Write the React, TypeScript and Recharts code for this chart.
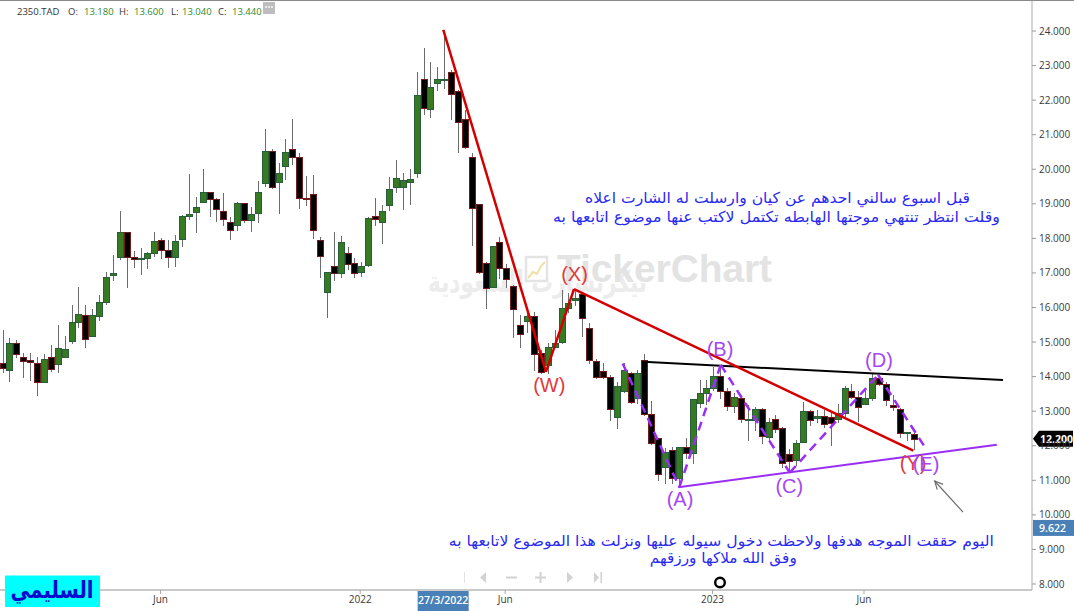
import React from 'react';
import { ComposedChart, Bar, XAxis, YAxis, ReferenceLine, ReferenceDot } from 'recharts';

// Weekly candles, 2350.TAD
const opens = [14.39, 14.19, 14.96, 14.58, 14.48, 14.38, 13.85, 14.58, 14.36, 14.58,
  15.04, 15.59, 15.78, 15.18, 15.76, 16.15, 16.94, 17.45, 18.18, 17.45,
  17.39, 17.42, 17.57, 17.95, 17.66, 17.45, 17.98, 18.66, 18.77, 19.06,
  19.35, 19.13, 18.78, 18.48, 18.39, 19.01, 18.53, 18.73, 19.59, 20.53,
  19.62, 20.09, 20.58, 20.35, 19.17, 19.27, 17.95, 16.46, 17.2, 16.99,
  17.58, 17.28, 17.02, 17.23, 18.64, 18.48, 18.96, 19.48, 19.48, 19.62,
  19.88, 22.61, 21.73, 22.49, 22.58, 22.8, 22.27, 21.45, 20.35, 18.99,
  17.28, 16.6, 17.9, 17.13, 16.62, 15.49, 15.61, 15.76, 14.67, 14.34,
  14.86, 15.01, 15.98, 16.22, 16.38, 15.4, 14.46, 14.16, 14.0, 12.84,
  13.58, 14.11, 13.37, 14.48, 12.91, 12.22, 11.38, 11.88, 11.06, 11.95,
  11.8, 13.25, 13.52, 13.66, 14.03, 13.58, 13.15, 13.39, 12.74, 12.74,
  13.06, 12.26, 12.76, 12.52, 11.75, 11.59, 12.12, 13.0, 12.79, 12.87,
  12.82, 12.76, 12.94, 13.59, 13.42, 13.21, 13.37, 13.95, 13.78, 13.19,
  13.06, 12.36, 12.34];
const highs = [15.35, 15.12, 15.06, 14.67, 14.67, 14.56, 14.64, 14.91, 15.49, 15.17,
  16.07, 16.6, 16.07, 15.95, 16.36, 17.02, 17.52, 18.79, 18.18, 17.63,
  17.71, 17.61, 18.19, 18.0, 17.95, 18.1, 18.68, 19.86, 19.21, 20.0,
  19.35, 19.18, 19.3, 18.63, 19.06, 19.03, 18.92, 19.66, 21.16, 20.58,
  20.17, 20.88, 21.45, 20.46, 19.8, 19.83, 18.05, 17.02, 18.18, 18.08,
  17.76, 17.42, 17.32, 18.63, 19.16, 18.97, 19.78, 20.27, 19.88, 20.0,
  22.8, 23.5, 23.09, 22.95, 24.03, 22.87, 22.29, 21.71, 20.48, 18.99,
  17.32, 17.78, 18.05, 17.25, 16.65, 15.78, 15.88, 15.88, 14.77, 14.96,
  15.35, 16.51, 16.41, 16.53, 16.46, 15.54, 14.5, 14.38, 14.05, 13.85,
  14.38, 14.14, 14.19, 14.64, 13.3, 12.23, 11.93, 11.97, 11.95, 12.21,
  13.34, 13.9, 13.9, 14.29, 14.34, 13.66, 13.52, 13.47, 13.18, 13.13,
  13.08, 12.79, 12.89, 12.55, 11.92, 12.17, 13.27, 13.03, 13.03, 13.03,
  12.98, 13.21, 13.72, 13.79, 13.58, 13.64, 14.08, 14.05, 13.85, 13.47,
  13.08, 12.41, 12.38];
const lows = [14.13, 13.88, 14.58, 13.98, 13.9, 13.47, 13.84, 14.17, 14.14, 14.58,
  14.96, 15.44, 14.85, 15.18, 15.64, 16.1, 16.8, 17.39, 16.6, 17.18,
  16.96, 17.13, 17.49, 17.42, 17.18, 17.2, 17.79, 18.56, 18.19, 19.04,
  18.65, 18.5, 18.39, 17.98, 18.24, 18.48, 18.21, 18.48, 19.52, 19.45,
  18.73, 19.71, 20.15, 18.87, 18.97, 18.0, 16.87, 15.73, 16.8, 16.87,
  17.1, 16.87, 16.92, 17.21, 18.39, 17.86, 18.82, 19.35, 18.84, 18.99,
  19.78, 21.59, 21.52, 22.29, 22.34, 21.45, 20.51, 20.62, 17.81, 17.0,
  15.99, 16.6, 16.84, 16.6, 15.15, 14.86, 15.3, 14.19, 14.11, 14.11,
  14.86, 14.98, 15.88, 16.07, 15.18, 14.4, 13.95, 13.95, 12.74, 12.5,
  13.56, 13.23, 13.23, 12.89, 12.06, 11.0, 10.91, 10.91, 10.8, 11.64,
  11.49, 13.13, 13.22, 13.61, 13.37, 13.03, 12.98, 12.7, 12.17, 12.45,
  12.07, 12.12, 12.41, 11.39, 11.3, 11.44, 12.1, 12.6, 12.69, 12.55,
  12.02, 12.7, 12.85, 13.37, 12.72, 13.21, 13.32, 13.76, 13.18, 13.03,
  12.26, 12.17, 11.9];
const closes = [14.26, 14.96, 14.64, 14.45, 14.41, 13.84, 14.5, 14.21, 14.82, 14.79,
  15.57, 15.8, 15.08, 15.78, 16.15, 16.87, 16.99, 18.18, 17.45, 17.39,
  17.42, 17.57, 17.92, 17.66, 17.47, 17.92, 18.65, 18.7, 18.9, 19.33,
  19.14, 18.84, 18.55, 18.23, 19.01, 18.53, 18.7, 19.33, 20.53, 19.49,
  19.88, 20.51, 20.35, 19.16, 19.13, 18.23, 17.49, 17.02, 16.99, 17.89,
  17.26, 16.99, 17.21, 18.58, 18.56, 18.78, 19.43, 19.74, 19.69, 19.72,
  22.15, 21.76, 22.37, 22.6, 22.61, 22.17, 21.36, 20.65, 18.87, 17.04,
  16.55, 17.78, 17.13, 16.82, 15.95, 15.22, 15.75, 14.65, 14.14, 14.85,
  14.96, 15.98, 16.12, 16.27, 15.69, 14.48, 13.98, 13.98, 13.05, 13.73,
  14.19, 13.27, 14.11, 12.91, 12.09, 11.17, 11.83, 11.06, 11.95, 11.78,
  13.34, 13.52, 13.66, 14.02, 13.58, 13.15, 13.4, 12.76, 12.77, 13.06,
  12.28, 12.68, 12.48, 11.51, 11.56, 12.07, 13.0, 12.74, 12.87, 12.62,
  12.65, 12.94, 13.66, 13.4, 13.11, 13.37, 13.95, 13.79, 13.32, 13.11,
  12.38, 12.39, 12.2];

// Axes
const yTicks = [8, 9, 10, 11, 12, 13, 14, 15, 16, 17, 18, 19, 20, 21, 22, 23, 24];
const xTickWeeks = [22.83, 51.76, 72.77, 102.81, 124.76];
const xTickLabels = ['Jun', '2022', 'Jun', '2023', 'Jun'];
const X_DOMAIN: [number, number] = [-0.43, 149.1];
const Y_DOMAIN: [number, number] = [7.826, 24.897];

// Crosshair read-outs
const cursorWeek = 64;
const cursorDate = '27/3/2022';
const cursorPrice = 9.622;
const headerSymbol = '2350.TAD';
const headerOHLC = ['13.180', '13.600', '13.040', '13.440'];

// Wave drawings: [week index, price]
const redWave = [[63.8, 24.03], [78.68, 14.14], [82.74, 16.53], [131.9, 11.86]];
const purpleZigzag = [[89.8, 14.38], [98, 10.8], [104, 14.34], [114, 11.22], [126.8, 14.05], [133.85, 11.88]];
const supportLine = [[97.85, 10.8], [144, 12.03]];
const resistanceLine = [[92.78, 14.43], [144.9, 13.9]];
const arrowLine = [[139.1, 10.08], [135.0, 10.98]];

const redLabels = [
  { text: '(X)', x: 82.81, y: 16.97 },
  { text: '(W)', x: 79.16, y: 13.76 },
  { text: '(Y)', x: 131.86, y: 11.5 },
];
const purpleLabels = [
  { text: '(B)', x: 103.9, y: 14.8 },
  { text: '(C)', x: 113.93, y: 10.83 },
  { text: '(D)', x: 126.93, y: 14.48 },
  { text: '(A)', x: 98.1, y: 10.46 },
  { text: '(E)', x: 133.74, y: 11.47 },
];

const notes = [
  { text: 'قبل اسبوع سالني احدهم عن كيان وارسلت له  الشارت اعلاه', x: 112.23, y: 19.02, len: 385 },
  { text: 'وقلت انتظر تنتهي موجتها الهابطه تكتمل لاكتب عنها موضوع اتابعها به', x: 112.08, y: 18.47, len: 447 },
  { text: 'اليوم حققت الموجه هدفها ولاحظت دخول سيوله عليها ونزلت هذا الموضوع لاتابعها به', x: 104.08, y: 9.1, len: 545 },
  { text: 'وفق الله ملاكها ورزقهم', x: 104.37, y: 8.61, len: 147 },
];

const W = 1074;
const H = 611;
const RED = '#d40000';
const PURPLE = '#9a2ef5';
const LABEL_RED = '#e23a3a';
const LABEL_PURPLE = '#a448f5';
const NOTE_BLUE = '#2a2af0';
const AXIS_TEXT = '#3a3a3a';

const data = opens.map((o, i) => ({
  i,
  o,
  h: highs[i],
  l: lows[i],
  c: closes[i],
  range: [lows[i], highs[i]],
}));

const Candle = (props: any) => {
  const { x, y, width, height, payload } = props;
  if (x == null || y == null) return null;
  const top = Math.min(y, y + height);
  const hh = Math.abs(height);
  const { o, h, l, c } = payload;
  const span = h - l;
  const py = (v: number) => (span > 0 ? top + ((h - v) / span) * hh : top);
  const cx = Math.round(x + width / 2);
  const up = c >= o;
  const bTop = Math.round(py(Math.max(o, c))) + 0.5;
  const bBot = Math.round(py(Math.min(o, c))) + 0.5;
  const bh = Math.max(bBot - bTop, 1);
  return (
    <g>
      <line x1={cx + 0.5} x2={cx + 0.5} y1={Math.round(top)} y2={Math.round(top + hh) + 1} stroke="#6c6c6c" strokeWidth={1} />
      <rect
        x={cx - 2.5}
        y={bTop}
        width={6}
        height={bh}
        fill={up ? '#367b22' : '#000000'}
        stroke={up ? '#2a5d3c' : '#741c1c'}
        strokeWidth={1}
      />
    </g>
  );
};

const seg = (a: number[], b: number[]) => [{ x: a[0], y: a[1] }, { x: b[0], y: b[1] }];

const polySegments = (pts: number[][], key: string, props: any) =>
  pts.slice(1).map((p, k) => (
    <ReferenceLine key={`${key}-${k}`} segment={seg(pts[k], p)} ifOverflow="visible" {...props} />
  ));

const Arrow = (p: any) => {
  const { x1, y1, x2, y2 } = p;
  const ang = Math.atan2(y2 - y1, x2 - x1);
  const L = 9;
  const spread = 0.45;
  const ax = x2 - L * Math.cos(ang - spread);
  const ay = y2 - L * Math.sin(ang - spread);
  const bx = x2 - L * Math.cos(ang + spread);
  const by = y2 - L * Math.sin(ang + spread);
  return (
    <g>
      <line x1={x1} y1={y1} x2={x2} y2={y2} stroke="#6e6e6e" strokeWidth={1.2} />
      <polyline points={`${ax},${ay} ${x2},${y2} ${bx},${by}`} fill="none" stroke="#6e6e6e" strokeWidth={1.2} />
    </g>
  );
};

const PriceTag = (props: any) => {
  const vb = props.viewBox || {};
  const x0 = (vb.x || 0) + (vb.width || 0);
  const yc = vb.y || 0;
  return (
    <g>
      <polygon
        points={`${x0 + 1},${yc} ${x0 + 7},${yc - 8} ${x0 + 41},${yc - 8} ${x0 + 41},${yc + 8} ${x0 + 7},${yc + 8}`}
        fill="#000"
      />
      <text x={x0 + 8} y={yc + 3.8} fill="#fff" fontSize={10.5} fontWeight={700} fontFamily='"Open Sans", sans-serif'>
        {closes[closes.length - 1].toFixed(3)}
      </text>
    </g>
  );
};

const CursorPriceTag = (props: any) => {
  const vb = props.viewBox || {};
  const x0 = (vb.x || 0) + (vb.width || 0);
  const yc = vb.y || 0;
  return (
    <g>
      <rect x={x0 + 1} y={yc - 8} width={41} height={16} fill="#4a80b8" />
      <text x={x0 + 7} y={yc + 3.8} fill="#fff" fontSize={10.5} fontWeight={600} fontFamily='"Open Sans", sans-serif'>
        {cursorPrice.toFixed(3)}
      </text>
    </g>
  );
};

const CursorDateTag = (props: any) => {
  const vb = props.viewBox || {};
  const xc = vb.x || 0;
  const yb = (vb.y || 0) + (vb.height || 0);
  return (
    <g>
      <rect x={xc - 27} y={yb} width={51} height={21} fill="#4a80b8" />
      <text x={xc - 1.5} y={yb + 14} fill="#fff" fontSize={10.5} fontWeight={600} textAnchor="middle" fontFamily='"Open Sans", sans-serif'>
        {cursorDate}
      </text>
    </g>
  );
};

const waveText = (text: string, color: string) => (p: any) => (
  <text
    x={p.cx}
    y={p.cy}
    fill={color}
    fontSize={20}
    textAnchor="middle"
    dominantBaseline="central"
    fontFamily='"Liberation Sans", Arial, sans-serif'
  >
    {text}
  </text>
);

const noteText = (text: string, len: number) => (p: any) => (
  <text
    x={p.cx}
    y={p.cy}
    fill={NOTE_BLUE}
    fontSize={15}
    textAnchor="middle"
    textLength={len}
    lengthAdjust="spacingAndGlyphs"
    fontFamily='"DejaVu Sans", sans-serif'
  >
    {text}
  </text>
);

const Watermark = () => (
  <svg width={W} height={H} style={{ position: 'absolute', left: 0, top: 0 }}>
    <text
      x={647}
      y={292}
      fill="#ececec"
      fontSize={30}
      fontWeight={700}
      textAnchor="end"
      textLength={219}
      lengthAdjust="spacingAndGlyphs"
      fontFamily='"DejaVu Sans", sans-serif'
    >
      تيكرتشارت السعودية
    </text>
    <rect x={526} y={257} width={21} height={24} fill="none" stroke="#e4e4e4" strokeWidth={2.5} />
    <polyline points="528,278 533,272 537,274 541,266 545,262" fill="none" stroke="#f1e0a6" strokeWidth={2} />
    <text
      x={557}
      y={282}
      fill="#e3e3e3"
      fontSize={38}
      fontWeight={700}
      textLength={215}
      lengthAdjust="spacingAndGlyphs"
      fontFamily='"Liberation Sans", Arial, sans-serif'
    >
      TickerChart
    </text>
  </svg>
);

const Chrome = () => {
  const hdr = { fontSize: 9.5, fontFamily: '"Open Sans", sans-serif' } as const;
  const green = '#2f8a2f';
  const dark = '#333';
  return (
    <svg width={W} height={H} style={{ position: 'absolute', left: 0, top: 0, pointerEvents: 'none' }}>
      <line x1={0} x2={W} y1={0.5} y2={0.5} stroke="#8a8a8a" strokeWidth={1} />
      <text x={17} y={15} fill={dark} {...hdr}>{headerSymbol}</text>
      <text x={68} y={15} fill={dark} {...hdr}>O:</text>
      <text x={84} y={15} fill={green} {...hdr}>{headerOHLC[0]}</text>
      <text x={119} y={15} fill={dark} {...hdr}>H:</text>
      <text x={134} y={15} fill={green} {...hdr}>{headerOHLC[1]}</text>
      <text x={171} y={15} fill={dark} {...hdr}>L:</text>
      <text x={182} y={15} fill={green} {...hdr}>{headerOHLC[2]}</text>
      <text x={218} y={15} fill={dark} {...hdr}>C:</text>
      <text x={232} y={15} fill={green} {...hdr}>{headerOHLC[3]}</text>
      <rect x={263} y={2} width={12} height={12} fill="#bdbdbd" />
      <circle cx={266} cy={7} r={0.9} fill="#fff" />
      <circle cx={269} cy={7} r={0.9} fill="#fff" />
      <circle cx={272} cy={7} r={0.9} fill="#fff" />

      {/* scroll / zoom controls */}
      <rect x={464} y={572} width={1} height={11} fill="#e2e2e2" />
      <polygon points="480,577.5 486,572 486,583" fill="#d2d2d2" />
      <rect x={506} y={576.5} width={11} height={2} fill="#d2d2d2" />
      <rect x={535} y={576.5} width={11} height={2} fill="#d2d2d2" />
      <rect x={539.5} y={572} width={2} height={11} fill="#d2d2d2" />
      <polygon points="573,577.5 567,572 567,583" fill="#d2d2d2" />
      <polygon points="599,577.5 594,572 594,583" fill="#d2d2d2" />
      <rect x={600.5} y={572} width={1.5} height={11} fill="#d2d2d2" />

      <circle cx={720} cy={582.5} r={4.8} fill="none" stroke="#000" strokeWidth={2.4} />

      <rect x={5} y={575.5} width={95} height={31.5} fill="#00ffff" />
      <text
        x={52}
        y={598}
        fill="#0b0bd0"
        fontSize={24}
        fontWeight={700}
        textAnchor="middle"
        textLength={83}
        lengthAdjust="spacingAndGlyphs"
        fontFamily='"DejaVu Sans", sans-serif'
      >
        السليمي
      </text>
    </svg>
  );
};

export default function App() {
  return (
    <div style={{ position: 'absolute', left: 0, top: 0, width: W, height: H, background: '#fff', overflow: 'hidden' }}>
      <Watermark />
      <div style={{ position: 'absolute', left: 0, top: 0 }}>
        <ComposedChart width={W} height={H} data={data} margin={{ top: 0, right: 0, bottom: 0, left: 0 }}>
          <XAxis
            dataKey="i"
            type="number"
            domain={X_DOMAIN}
            allowDataOverflow
            ticks={xTickWeeks}
            interval={0}
            tickFormatter={(v: number) => xTickLabels[xTickWeeks.indexOf(v)] ?? ''}
            height={21}
            tickSize={4}
            tickMargin={2}
            axisLine={{ stroke: '#c9c9c9', strokeWidth: 2 }}
            tickLine={{ stroke: '#a8a8a8' }}
            tick={{ fill: AXIS_TEXT, fontSize: 10, fontFamily: '"Open Sans", sans-serif' }}
          />
          <YAxis
            orientation="right"
            type="number"
            domain={Y_DOMAIN}
            allowDataOverflow
            ticks={yTicks}
            interval={0}
            width={42}
            tickSize={4}
            tickMargin={3}
            tickFormatter={(v: number) => v.toFixed(3)}
            axisLine={{ stroke: '#ababab' }}
            tickLine={{ stroke: '#9a9a9a' }}
            tick={{ fill: AXIS_TEXT, fontSize: 10, fontFamily: '"Open Sans", sans-serif', textAnchor: 'start' }}
          />
          <Bar dataKey="range" barSize={6} isAnimationActive={false} shape={(p: any) => <Candle {...p} />} />

          {polySegments(resistanceLine, 'res', { stroke: '#000', strokeWidth: 2 })}
          {polySegments(supportLine, 'sup', { stroke: PURPLE, strokeWidth: 2 })}
          {polySegments(purpleZigzag, 'zig', { stroke: PURPLE, strokeWidth: 2.5, strokeDasharray: '9 6' })}
          {polySegments(redWave, 'red', { stroke: RED, strokeWidth: 2.5 })}
          <ReferenceLine segment={seg(arrowLine[0], arrowLine[1])} ifOverflow="visible" shape={Arrow} />

          {redLabels.map((l) => (
            <ReferenceDot key={l.text} x={l.x} y={l.y} r={0} ifOverflow="visible" shape={waveText(l.text, LABEL_RED)} />
          ))}
          {purpleLabels.map((l) => (
            <ReferenceDot key={l.text} x={l.x} y={l.y} r={0} ifOverflow="visible" shape={waveText(l.text, LABEL_PURPLE)} />
          ))}
          {notes.map((n, k) => (
            <ReferenceDot key={`note-${k}`} x={n.x} y={n.y} r={0} ifOverflow="visible" shape={noteText(n.text, n.len)} />
          ))}

          <ReferenceLine y={closes[closes.length - 1]} stroke="none" ifOverflow="visible" label={(p: any) => <PriceTag {...p} />} />
          <ReferenceLine y={cursorPrice} stroke="none" ifOverflow="visible" label={(p: any) => <CursorPriceTag {...p} />} />
          <ReferenceLine x={cursorWeek} stroke="none" ifOverflow="visible" label={(p: any) => <CursorDateTag {...p} />} />
        </ComposedChart>
      </div>
      <Chrome />
    </div>
  );
}
